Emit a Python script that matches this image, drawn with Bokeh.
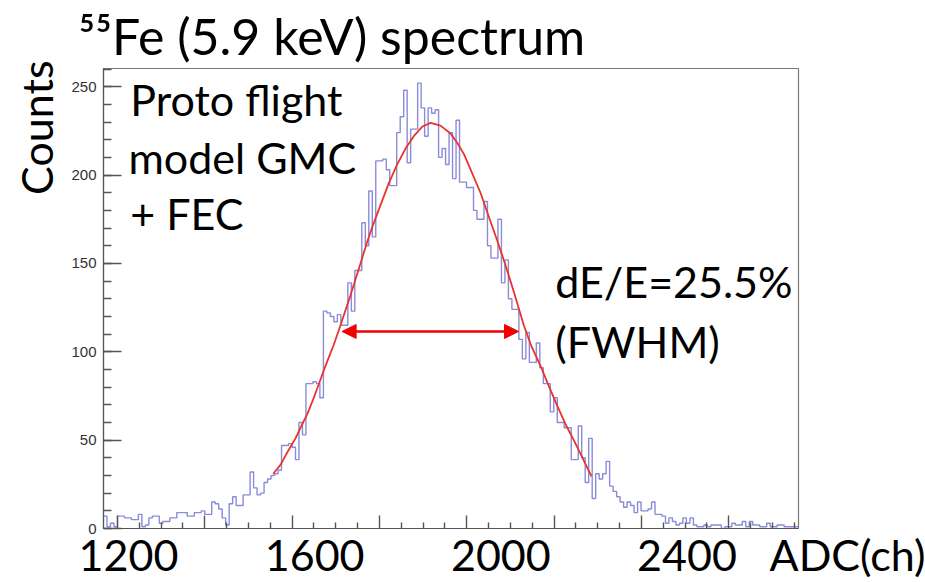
import math
from bokeh.plotting import figure
from bokeh.models import (Range1d, LinearAxis, FixedTicker, SingleIntervalTicker,
                          Label, Arrow, NormalHead, Title, AllLabels)
from bokeh.embed import file_html
from bokeh.resources import INLINE

# ---------------- data ----------------
bin_start = 1146.3
bin_width = 7.5
counts = [
    7, 1, 3, 1, 7, 7, 6, 6, 5, 5, 8, 1, 2, 6, 7, 7, 3, 4, 4, 6,
    6, 9, 9, 9, 7, 7, 9, 9, 10, 8, 8, 15, 14, 11, 6, 2, 14, 18, 13, 13,
    19, 19, 32, 23, 19, 20, 26, 28, 30, 31, 33, 47, 47, 48, 46, 39, 60, 53, 82, 82,
    83, 82, 74, 123, 122, 120, 117, 121, 115, 115, 139, 123, 146, 146, 173, 160, 191, 165, 208, 208,
    209, 203, 194, 194, 224, 233, 248, 207, 226, 226, 252, 238, 222, 238, 235, 237, 210, 215, 206, 224,
    198, 231, 196, 196, 193, 193, 180, 175, 175, 185, 160, 153, 153, 175, 139, 152, 130, 124, 124, 107,
    96, 111, 94, 94, 105, 91, 82, 82, 66, 74, 60, 60, 57, 57, 39, 39, 58, 40, 26, 51,
    17, 31, 28, 31, 38, 24, 21, 18, 15, 12, 15, 13, 9, 15, 10, 10, 11, 15, 8, 8,
    7, 3, 6, 4, 2, 3, 6, 3, 6, 2, 1, 1, 2, 1, 2, 2, 2, 0, 1, 1,
    3, 2, 2, 4, 1, 4, 2, 2, 1, 1, 3, 1, 1, 2, 2, 1, 1, 1, 1,
]

fit_x = [1510.9, 1526.6, 1541.0, 1558.8, 1569.6, 1584.6, 1598.2, 1616.2, 1627.6, 1641.1,
         1655.5, 1677.0, 1698.5, 1711.4, 1724.3, 1741.5, 1758.7, 1777.4, 1795.2, 1813.0,
         1831.7, 1848.9, 1870.4, 1891.9, 1906.9, 1920.5, 1937.0, 1956.3, 1973.5, 1992.2,
         2010.1, 2027.9, 2049.4, 2065.9, 2085.3, 2102.5, 2121.1, 2139.0, 2156.8, 2175.5, 2194.8]
fit_y = [31, 36, 43, 51, 57, 65, 74, 87, 95, 104,
         115, 132, 150, 161, 171, 183, 195, 206, 215, 222,
         227.5, 229.5, 228, 223.5, 218, 212, 202, 190, 177, 163,
         149, 134, 115, 103, 92, 81, 69.5, 59, 50, 40, 29.5]

fwhm_x = [1659, 2038]
fwhm_y = 111.5

x_tick_labels = [1200, 1600, 2000, 2400]
x_tick_marks = [1176.4, 1364.0, 1551.5, 1739.1, 1926.7, 2114.3, 2301.9, 2489.4]
x_axis_name = "ADC(ch)"

# ---------------- figure ----------------
X0, X1 = 1146.3, 2639.6
Y0, Y1 = 0, 260.3
FONT = "Lato"
GRAY = "#555555"

p = figure(width=925, height=582, x_range=Range1d(X0, X1), y_range=Range1d(Y0, Y1),
           output_backend="svg", toolbar_location=None,
           x_axis_type=None, y_axis_type=None,
           min_border_left=103, min_border_right=127,
           min_border_top=68, min_border_bottom=52)
p.background_fill_color = "white"
p.border_fill_color = "white"
p.outline_line_color = "#7a7a7a"
p.outline_line_width = 1.2

p.title.text = "\u2075\u2075Fe (5.9 keV) spectrum"
p.title.text_font = FONT
p.title.text_font_size = "50px"
p.title.text_font_style = "normal"
p.title.text_color = "black"
p.title.align = "left"
p.title.offset = -25
p.title.standoff = 5

# y axis
yax = LinearAxis(ticker=SingleIntervalTicker(interval=50, num_minor_ticks=5))
yax.major_tick_in = 18
yax.major_tick_out = 0
yax.minor_tick_in = 8
yax.minor_tick_out = 0
yax.major_tick_line_color = GRAY
yax.minor_tick_line_color = GRAY
yax.major_tick_line_width = 1.4
yax.minor_tick_line_width = 1.4
yax.axis_line_color = GRAY
yax.axis_line_width = 1.2
yax.major_label_text_font = "Liberation Sans"
yax.major_label_text_font_size = "15px"
yax.major_label_text_color = "#333333"
yax.major_label_standoff = 7
p.add_layout(yax, "left")

p.add_layout(Title(text="Counts", align="right", offset=-8, text_font=FONT,
                   text_font_size="43px", text_font_style="normal", text_color="black",
                   standoff=13), "left")

# x: small tick marks (no labels)
step = (x_tick_marks[1] - x_tick_marks[0]) / 4.0
small_marks = [x_tick_marks[0] + k * step for k in range(-1, 40)]
small_marks = [m for m in small_marks if X0 <= m <= X1 and all(abs(m - t) > 1 for t in x_tick_marks)]
xa = LinearAxis(ticker=FixedTicker(ticks=[], minor_ticks=small_marks))
xa.minor_tick_in = 6
xa.minor_tick_out = 0
xa.minor_tick_line_color = GRAY
xa.minor_tick_line_width = 1.4
xa.axis_line_color = None
xa.major_label_standoff = 0
p.add_layout(xa, "below")

# x: labels (+ axis name on the same row) and long tick marks
name_pos = 2631
xb = LinearAxis(ticker=FixedTicker(ticks=x_tick_labels + [name_pos], minor_ticks=x_tick_marks))
xb.major_label_overrides = {name_pos: "\u00a0" * 14 + x_axis_name}
xb.major_label_policy = AllLabels()
xb.major_tick_in = 0
xb.major_tick_out = 0
xb.major_tick_line_color = None
xb.minor_tick_in = 13
xb.minor_tick_out = 0
xb.minor_tick_line_color = GRAY
xb.minor_tick_line_width = 1.4
xb.axis_line_color = GRAY
xb.axis_line_width = 1.2
xb.major_label_text_font = FONT
xb.major_label_text_font_size = "43px"
xb.major_label_text_color = "black"
xb.major_label_standoff = 0
p.add_layout(xb, "below")

# histogram
edges = [bin_start + bin_width * i for i in range(len(counts) + 1)]
p.step(x=edges, y=counts + [counts[-1]], mode="after",
       line_color="#8a8cd8", line_width=1.4)

# fit
p.line(fit_x, fit_y, line_color="#e8342c", line_width=1.8)

# FWHM arrow
p.add_layout(Arrow(start=NormalHead(size=14, fill_color="#f00000", line_color="#f00000"),
                   end=NormalHead(size=14, fill_color="#f00000", line_color="#f00000"),
                   x_start=fwhm_x[0], y_start=fwhm_y, x_end=fwhm_x[1], y_end=fwhm_y,
                   line_color="#f00000", line_width=2.5))

def lab(text, x, y, size="43px"):
    p.add_layout(Label(x=x, y=y, text=text, text_font=FONT, text_font_size=size,
                       text_color="black", text_align="left", text_baseline="alphabetic"))

lab("Proto flight", 1204, 242.8)
lab("model GMC", 1200, 210.1)
lab("+ FEC", 1204, 178.0)
lab("dE/E=25.5%", 2117, 139.7)
lab("(FWHM)", 2117, 105.9)

open("out.html", "w").write(file_html(p, INLINE))
